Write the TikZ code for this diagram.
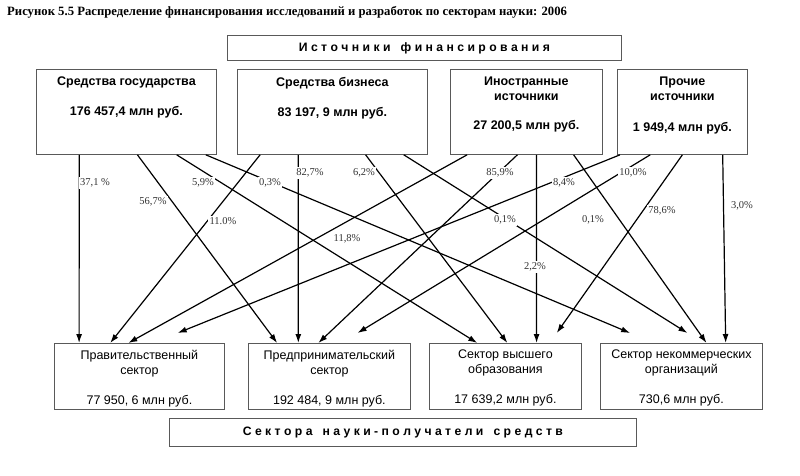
\documentclass[tikz,border=0pt]{standalone}
\usepackage{fontspec}
\setmainfont{Liberation Serif}
\setsansfont{Liberation Sans}
\usetikzlibrary{arrows.meta,calc,positioning}

\tikzset{
  box/.style={draw=black!65,line width=.8pt,rectangle,inner sep=0pt,anchor=north west},
  srctxt/.style={align=center,inner sep=0pt,font=\sffamily\bfseries\fontsize{12.5}{15}\selectfont},
  rcvtxt/.style={align=center,inner sep=0pt,font=\sffamily\fontsize{12.5}{15}\selectfont},
  headtxt/.style={font=\sffamily\bfseries\fontsize{12.2}{14}\selectfont},
  flow/.style={-{Latex[length=9pt,width=6pt]},line width=1.2pt},
  pct/.style={fill=white,inner sep=1.5pt,text=black!80,font=\fontsize{10.5}{12}\selectfont},
}

\begin{document}
\begin{tikzpicture}[x=1pt,y=-1pt]
        \fill [white] (0,0) rectangle (800,475);
        \useasboundingbox (0,0) rectangle (800,475);

        % title
        \node [anchor=west,inner sep=0pt,font=\bfseries\fontsize{12.7}{14}\selectfont] (title) at (7,12)
          {Рисунок 5.5 Распределение финансирования исследований и разработок по секторам науки: 2006};

        % sources
        \node [box,headtxt,minimum width=394pt,minimum height=25pt] (head) at (227,35)
          {И с т о ч н и к и ~ ф и н а н с и р о в а н и я};
        \node [box,minimum width=180pt,minimum height=85pt] (gov) at (36,69) {};
        \node [box,minimum width=190pt,minimum height=85pt] (biz) at (237,69) {};
        \node [box,minimum width=152pt,minimum height=85pt] (frn) at (450,69) {};
        \node [box,minimum width=130pt,minimum height=85pt] (oth) at (617,69) {};

        \node [srctxt,below=8pt of gov.north] (govtxt) {Средства государства\\[15pt]176 457,4 млн руб.};
        \node [srctxt,below=8pt of biz.north] (biztxt) {Средства бизнеса\\[15pt]83 197, 9 млн руб.};
        \node [srctxt,below=8pt of frn.north] (frntxt) {Иностранные\\источники\\[14pt]27 200,5 млн руб.};
        \node [srctxt,below=8pt of oth.north] (othtxt) {Прочие\\источники\\[16pt]1 949,4 млн руб.};

        % sectors
        \node [box,minimum width=170pt,minimum height=66pt] (tgov) at (54,343) {};
        \node [box,minimum width=162pt,minimum height=66pt] (tbiz) at (248,343) {};
        \node [box,minimum width=152pt,minimum height=66pt] (the) at (429,343) {};
        \node [box,minimum width=162pt,minimum height=66pt] (tnpo) at (600,343) {};
        \node [box,headtxt,minimum width=467pt,minimum height=28pt] (rcv) at (169,418)
          {С е к т о р а ~ н а у к и - п о л у ч а т е л и ~ с р е д с т в};

        \node [rcvtxt,below=7pt of tgov.north] (tgovtxt) {Правительственный\\сектор\\[15pt]77 950, 6 млн руб.};
        \node [rcvtxt,below=7pt of tbiz.north] (tbiztxt) {Предпринимательский\\сектор\\[15pt]192 484, 9 млн руб.};
        \node [rcvtxt,below=7pt of the.north] (thetxt) {Сектор высшего\\образования\\[15pt]17 639,2 млн руб.};
        \node [rcvtxt,below=7pt of tnpo.north] (tnpotxt) {Сектор некоммерческих\\организаций\\[15pt]730,6 млн руб.};

        % flows from state funds
        \draw [flow] ($(gov.south west)!.239!(gov.south east)$) -- ($(tgov.north west)!.147!(tgov.north east)$);
        \draw [flow] ($(gov.south west)!.561!(gov.south east)$) -- ($(tbiz.north west)!.179!(tbiz.north east)$);
        \draw [flow] ($(gov.south west)!.778!(gov.south east)$) -- ($(the.north west)!.316!(the.north east)$);
        \draw [flow] ($(gov.south west)!.939!(gov.south east)$) -- ($(tnpo.north west)!.185!(tnpo.north east)+(0,-10)$);

        % flows from business funds
        \draw [flow] ($(biz.south west)!.121!(biz.south east)$) -- ($(tgov.north west)!.329!(tgov.north east)$);
        \draw [flow] ($(biz.south west)!.321!(biz.south east)$) -- ($(tbiz.north west)!.309!(tbiz.north east)$);
        \draw [flow] ($(biz.south west)!.674!(biz.south east)$) -- ($(the.north west)!.513!(the.north east)$);
        \draw [flow] ($(biz.south west)!.874!(biz.south east)$) -- ($(tnpo.north west)!.537!(tnpo.north east)+(0,-10)$);

        % flows from foreign sources
        \draw [flow] ($(frn.south west)!.112!(frn.south east)$) -- ($(tgov.north west)!.435!(tgov.north east)$);
        \draw [flow] ($(frn.south west)!.441!(frn.south east)$) -- ($(tbiz.north west)!.432!(tbiz.north east)$);
        \draw [flow] ($(frn.south west)!.566!(frn.south east)$) -- ($(the.north west)!.704!(the.north east)$);
        \draw [flow] ($(frn.south west)!.809!(frn.south east)$) -- ($(tnpo.north west)!.654!(tnpo.north east)$);

        % flows from other sources
        \draw [flow] ($(oth.south west)!.023!(oth.south east)$) -- ($(tgov.north west)!.724!(tgov.north east)+(0,-10)$);
        \draw [flow] ($(oth.south west)!.254!(oth.south east)$) -- ($(tbiz.north west)!.673!(tbiz.north east)+(0,-10)$);
        \draw [flow] ($(oth.south west)!.5!(oth.south east)$) -- ($(the.north west)!.836!(the.north east)+(0,-10)$);
        \draw [flow] ($(oth.south west)!.808!(oth.south east)$) -- ($(tnpo.north west)!.772!(tnpo.north east)$);

        % shares
        \node [pct] (pgg) at (95,183) {37,1 \%};
        \node [pct] (pgb) at (153,202) {56,7\%};
        \node [pct] (pgh) at (203,183) {5,9\%};
        \node [pct] (pgn) at (270,183) {0,3\%};
        \node [pct] (pbg) at (223,221) {11.0\%};
        \node [pct] (pbb) at (310,173) {82,7\%};
        \node [pct] (pbh) at (364,173) {6,2\%};
        \node [pct] (pbn) at (505,220) {0,1\%};
        \node [pct] (pfg) at (347,239) {11,8\%};
        \node [pct] (pfb) at (500,173) {85,9\%};
        \node [pct] (pfh) at (535,267) {2,2\%};
        \node [pct] (pfn) at (593,220) {0,1\%};
        \node [pct] (pog) at (564,183) {8,4\%};
        \node [pct] (pob) at (633,173) {10,0\%};
        \node [pct] (poh) at (662,211) {78,6\%};
        \node [pct] (pon) at (742,206) {3,0\%};

\end{tikzpicture}
\end{document}
